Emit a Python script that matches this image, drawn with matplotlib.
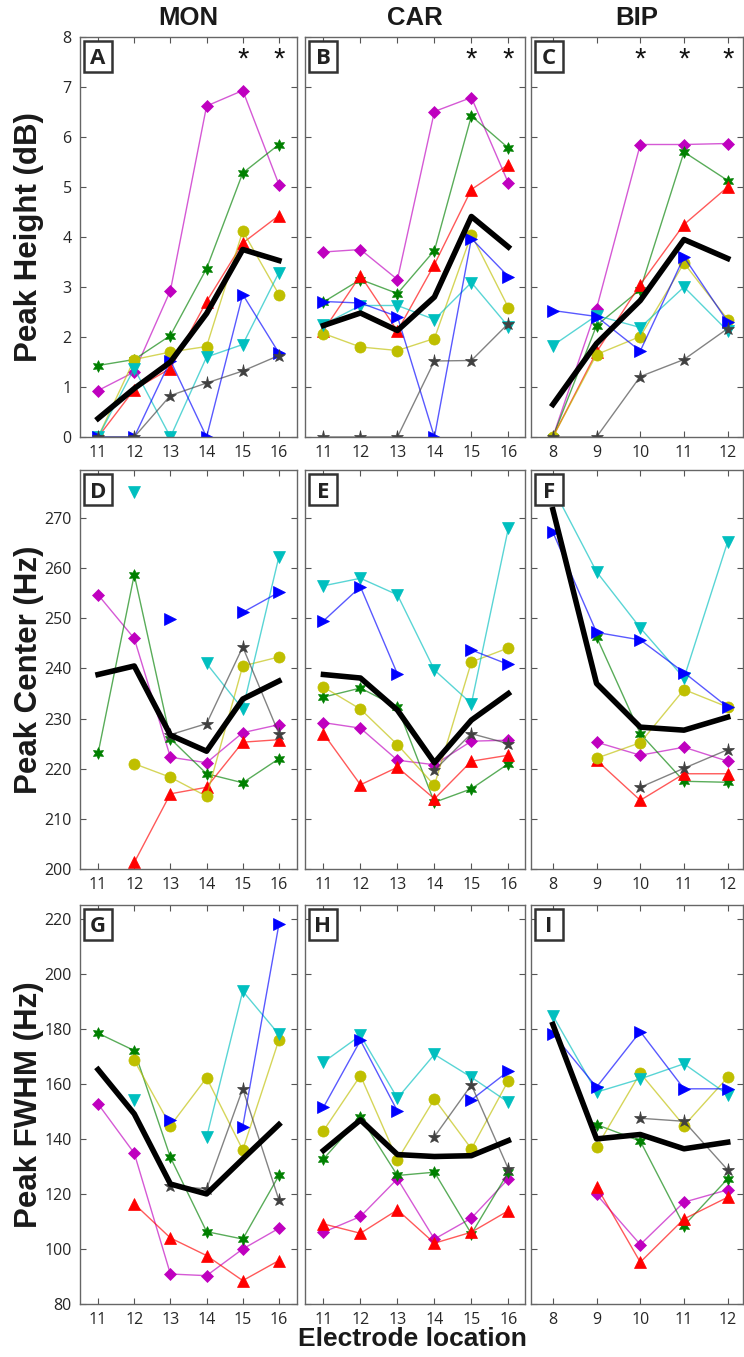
import numpy as np
import matplotlib.pyplot as plt
from matplotlib.patches import Rectangle

nan = np.nan

# =========================
# DATA
# =========================
elec_mon = [11, 12, 13, 14, 15, 16]
elec_car = [11, 12, 13, 14, 15, 16]
elec_bip = [8, 9, 10, 11, 12]

# rows: subjects (magenta, green, red, yellow, cyan, blue, gray)
height_mon = [
    [0.93, 1.30, 2.93, 6.62, 6.93, 5.05],
    [1.43, 1.55, 2.03, 3.37, 5.28, 5.85],
    [0.00, 0.95, 1.37, 2.71, 3.88, 4.43],
    [0.00, 1.55, 1.70, 1.81, 4.12, 2.85],
    [0.00, 1.37, 0.00, 1.60, 1.85, 3.29],
    [0.00, 0.00, 1.53, 0.00, 2.85, 1.68],
    [0.00, 0.00, 0.83, 1.08, 1.32, 1.63],
]
height_mon_mean = [0.37, 0.97, 1.50, 2.47, 3.75, 3.53]

height_car = [
    [3.70, 3.75, 3.15, 6.51, 6.79, 5.08],
    [2.70, 3.15, 2.87, 3.73, 6.42, 5.78],
    [2.13, 3.23, 2.12, 3.45, 4.95, 5.45],
    [2.07, 1.80, 1.73, 1.97, 4.05, 2.59],
    [2.25, 2.63, 2.63, 2.35, 3.09, 2.21],
    [2.71, 2.68, 2.41, 0.00, 3.97, 3.21],
    [0.00, 0.00, 0.00, 1.52, 1.53, 2.27],
]
height_car_mean = [2.23, 2.48, 2.13, 2.80, 4.41, 3.80]

height_bip = [
    [0.00, 2.57, 5.85, 5.85, 5.87],
    [0.00, 2.23, 2.95, 5.70, 5.13],
    [0.00, 1.70, 3.05, 4.25, 5.00],
    [0.00, 1.65, 2.01, 3.48, 2.35],
    [1.83, 2.43, 2.19, 3.00, 2.12],
    [2.53, 2.41, 1.72, 3.60, 2.30],
    [0.00, 0.00, 1.21, 1.55, 2.17],
]
height_bip_mean = [0.65, 1.87, 2.73, 3.95, 3.57]

center_mon = [
    [254.7, 246.0, 222.3, 221.2, 227.2, 228.8],
    [223.1, 258.7, 226.0, 219.0, 217.2, 222.0],
    [nan, 201.3, 215.0, 216.3, 225.3, 225.8],
    [nan, 221.0, 218.3, 214.5, 240.5, 242.3],
    [nan, 275.3, nan, 241.0, 231.9, 262.3],
    [nan, nan, 249.9, nan, 251.2, 255.2],
    [nan, nan, 226.8, 229.0, 244.3, 227.0],
]
center_mon_mean = [238.8, 240.5, 226.7, 223.5, 233.9, 237.5]

center_car = [
    [229.2, 228.1, 221.7, 220.8, 225.5, 225.7],
    [234.3, 236.1, 232.3, 213.3, 216.0, 221.0],
    [227.0, 216.8, 220.3, 214.0, 221.5, 222.7],
    [236.3, 231.9, 224.8, 216.7, 241.3, 244.1],
    [256.5, 258.0, 254.7, 239.7, 233.0, 268.0],
    [249.5, 256.3, 238.9, nan, 243.7, 240.8],
    [nan, nan, nan, 219.7, 227.0, 225.0],
]
center_car_mean = [238.8, 238.1, 231.7, 221.2, 229.7, 235.0]

center_bip = [
    [nan, 225.3, 222.7, 224.3, 221.5],
    [nan, 246.3, 227.0, 217.5, 217.3],
    [nan, 221.7, 213.7, 219.0, 219.0],
    [nan, 222.1, 225.2, 235.8, 232.3],
    [276.0, 259.3, 248.1, 238.1, 265.3],
    [267.2, 247.2, 245.7, 239.2, 232.3],
    [nan, nan, 216.3, 220.1, 223.8],
]
center_bip_mean = [271.7, 237.0, 228.3, 227.7, 230.3]

fwhm_mon = [
    [152.7, 134.8, 90.9, 90.3, 100.0, 107.5],
    [178.4, 172.1, 133.3, 106.3, 103.6, 126.7],
    [nan, 116.4, 104.0, 97.6, 88.5, 95.8],
    [nan, 168.5, 144.8, 162.2, 136.0, 176.0],
    [nan, 154.2, nan, 140.6, 193.7, 178.0],
    [nan, nan, 146.9, nan, 144.5, 218.0],
    [nan, nan, 123.0, 121.8, 158.2, 117.8],
]
fwhm_mon_mean = [165.2, 149.1, 123.6, 120.0, 132.7, 145.2]

fwhm_car = [
    [106.1, 111.8, 125.5, 103.6, 111.2, 125.5],
    [132.7, 147.9, 126.7, 127.9, 105.5, 127.9],
    [109.1, 105.7, 114.2, 102.1, 106.1, 113.9],
    [143.0, 163.0, 132.4, 154.5, 136.4, 161.2],
    [167.9, 177.6, 154.8, 170.7, 162.4, 153.3],
    [151.5, 175.8, 150.1, nan, 154.2, 164.6],
    [nan, nan, nan, 140.8, 159.6, 129.1],
]
fwhm_car_mean = [135.8, 146.9, 134.3, 133.6, 133.9, 139.4]

fwhm_bip = [
    [nan, 119.8, 101.6, 117.0, 121.5],
    [nan, 145.2, 139.2, 108.5, 125.5],
    [nan, 122.7, 95.2, 110.9, 118.8],
    [nan, 137.0, 163.9, 144.8, 162.4],
    [184.8, 157.0, 161.8, 167.3, 156.1],
    [178.2, 158.8, 179.0, 158.2, 158.2],
    [nan, nan, 147.5, 146.4, 128.7],
]
fwhm_bip_mean = [181.6, 140.0, 141.6, 136.4, 138.8]

# significance markers per column
sig_mon = [15, 16]
sig_car = [15, 16]
sig_bip = [10, 11, 12]

# =========================
# STYLE
# =========================
colors = [(0.75, 0, 0.75), (0, 0.5, 0), (1, 0, 0), (0.75, 0.75, 0),
          (0, 0.75, 0.75), (0, 0, 1), (0.25, 0.25, 0.25)]
markers = ["D", (6, 1, 0), "^", "o", "v", ">", "*"]
msizes = [6, 8.5, 8, 8, 8, 8, 9.5]

W, H = 744, 1357
fig = plt.figure(figsize=(W / 100, H / 100), dpi=100)

col_px = [(80, 297), (305, 525), (531, 743)]
row_px = [(37, 437), (470, 869), (905, 1304)]


def px_axes(cx, ry):
    x0, x1 = cx
    y0, y1 = ry
    return fig.add_axes([x0 / W, 1 - y1 / H, (x1 - x0) / W, (y1 - y0) / H])


def letter_box(ax, cx, ry, letter):
    # fixed-size box (pixels) in the top-left corner of the panel
    aw = cx[1] - cx[0]
    ah = ry[1] - ry[0]
    bx, by, bw, bh = 4, 4, 28, 31
    x0 = bx / aw
    y0 = 1 - (by + bh) / ah
    ax.add_patch(Rectangle((x0, y0), bw / aw, bh / ah, transform=ax.transAxes,
                           fc="white", ec="#333333", lw=1.8, zorder=9,
                           clip_on=False))
    ax.text(x0 + bw / aw / 2, y0 + bh / ah / 2, letter,
            transform=ax.transAxes, ha="center", va="center_baseline",
            fontsize=16, fontweight="bold", family=tick_font,
            color="#222222", zorder=10)


panels = [
    [(elec_mon, height_mon, height_mon_mean),
     (elec_car, height_car, height_car_mean),
     (elec_bip, height_bip, height_bip_mean)],
    [(elec_mon, center_mon, center_mon_mean),
     (elec_car, center_car, center_car_mean),
     (elec_bip, center_bip, center_bip_mean)],
    [(elec_mon, fwhm_mon, fwhm_mon_mean),
     (elec_car, fwhm_car, fwhm_car_mean),
     (elec_bip, fwhm_bip, fwhm_bip_mean)],
]
ylims = [(0, 8), (200, 279.6), (80, 225)]
yticks = [np.arange(0, 9, 1), np.arange(200, 271, 10), np.arange(80, 221, 20)]
xlims = [(10.5, 16.5), (10.5, 16.45), (7.5, 12.35)]
ylabels = ["Peak Height (dB)", "Peak Center (Hz)", "Peak FWHM (Hz)"]
letters = "ABCDEFGHI"
titles = ["MON", "CAR", "BIP"]
sigs = [sig_mon, sig_car, sig_bip]

tick_font = "Open Sans"
bold_font = "Liberation Sans"

# =========================
# PANELS
# =========================
for r in range(3):
    for c in range(3):
        ax = px_axes(col_px[c], row_px[r])
        x, rows, mean = panels[r][c]
        for vals, col, m, ms in zip(rows, colors, markers, msizes):
            ax.plot(x, vals, color=col + (0.65,), lw=1.0, marker=m, ms=ms,
                    mfc=col, mec=col, mew=0.5, zorder=2)
        ax.plot(x, mean, color="black", lw=4, zorder=3)

        ax.set_xlim(*xlims[c])
        ax.set_ylim(*ylims[r])
        ax.set_xticks(x)
        ax.set_yticks(yticks[r])
        ax.tick_params(direction="in", top=True, right=True, length=4,
                       width=0.8, color="#555555", labelcolor="#262626",
                       labelsize=11.5, pad=6, labelleft=(c == 0))
        for lab in ax.get_xticklabels() + ax.get_yticklabels():
            lab.set_family(tick_font)
        for sp in ax.spines.values():
            sp.set_color("#666666")
            sp.set_linewidth(1.0)

        letter_box(ax, col_px[c], row_px[r], letters[r * 3 + c])

        if r == 0:
            for sx in sigs[c]:
                ax.text(sx, 7.55, "*", ha="center", va="center",
                        fontsize=21, color="#111111", family=bold_font)
            x0, x1 = col_px[c]
            fig.text(((x0 + x1) / 2) / W, 1 - 18 / H, titles[c],
                     ha="center", va="center", fontsize=18.5,
                     fontweight="bold", family=bold_font, color="#1a1a1a")

        if c == 0:
            y0, y1 = row_px[r]
            fig.text(29 / W, 1 - ((y0 + y1) / 2) / H, ylabels[r],
                     rotation=90, ha="center", va="center", fontsize=22.5,
                     fontweight="bold", family=bold_font, color="#1a1a1a")

fig.text(412 / W, 1 - 1339 / H, "Electrode location", ha="center",
         va="center", fontsize=19, fontweight="bold", family=bold_font,
         color="#1a1a1a")

fig.savefig("out.png", dpi=100)
